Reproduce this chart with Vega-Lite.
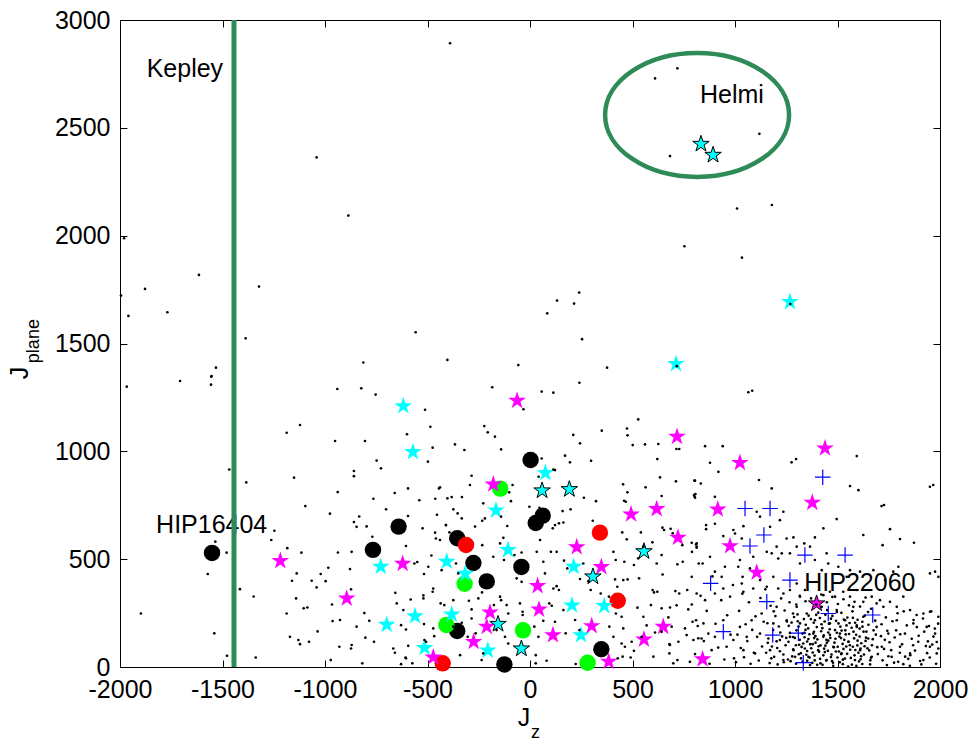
{
"$schema": "https://vega.github.io/schema/vega-lite/v6.json",
"autosize": {"type": "none"},
"padding": {"left": 120, "top": 20, "right": 36, "bottom": 78},
"width": 820,
"height": 647,
"background": "white",
"config": {"font": "Liberation Sans", "view": {"stroke": "black", "strokeWidth": 1}},
"datasets": {
"dots": [
{"x":-390,"y":2892},{"x":-1041,"y":2363},{"x":-886,"y":2093},{"x":-1980,"y":1988},{"x":-1615,"y":1818},{"x":-1878,"y":1753},{"x":-1995,"y":1722},{"x":-1769,"y":1645},{"x":-1959,"y":1628},{"x":-1322,"y":1764},{"x":-1387,"y":1524},{"x":-558,"y":1552},{"x":-813,"y":1412},{"x":-403,"y":1424},{"x":-57,"y":1400},{"x":-1532,"y":1388},{"x":-1555,"y":1346},
{"x":719,"y":2776},{"x":610,"y":2729},{"x":1119,"y":2472},{"x":683,"y":2369},{"x":1010,"y":2126},{"x":1180,"y":2142},{"x":753,"y":1951},{"x":1034,"y":1898},{"x":240,"y":1736},{"x":132,"y":1699},{"x":215,"y":1685},{"x":84,"y":1640},{"x":254,"y":1520},{"x":376,"y":1388},{"x":716,"y":1395},{"x":1270,"y":1683},{"x":1065,"y":1274},{"x":1084,"y":1281},
{"x":-1967,"y":1300},{"x":-1707,"y":1326},{"x":-1553,"y":1349},{"x":-1556,"y":1309},{"x":-940,"y":1289},{"x":-823,"y":1292},{"x":-753,"y":1263},{"x":-512,"y":1193},{"x":-1187,"y":1086},{"x":-1122,"y":1122},{"x":-600,"y":1079},{"x":-486,"y":1114},{"x":-951,"y":1048},{"x":-805,"y":1048},{"x":-475,"y":1017},{"x":-498,"y":952},{"x":-1467,"y":916},{"x":-1384,"y":856},{"x":-1151,"y":878},{"x":-748,"y":957},{"x":-727,"y":921},{"x":-859,"y":909},{"x":-859,"y":885},{"x":-938,"y":811},{"x":-660,"y":807},{"x":-595,"y":828},{"x":-444,"y":828},{"x":-764,"y":780},{"x":-540,"y":773},{"x":-462,"y":780},{"x":-1096,"y":746},{"x":-702,"y":731},{"x":-976,"y":711},{"x":-833,"y":698},{"x":-595,"y":700},{"x":-454,"y":706},{"x":-859,"y":672},{"x":-797,"y":652},{"x":-846,"y":650},{"x":-524,"y":643},{"x":-410,"y":658},{"x":-463,"y":623},{"x":-1247,"y":632},{"x":-1262,"y":589},{"x":-1535,"y":581},{"x":-769,"y":604},{"x":-459,"y":596},{"x":-1480,"y":530},{"x":-1184,"y":551},{"x":-1115,"y":530},{"x":-937,"y":531},{"x":-870,"y":534},{"x":-605,"y":561},{"x":-481,"y":517},{"x":-1572,"y":431},{"x":-984,"y":460},{"x":-878,"y":454},{"x":-1138,"y":434},{"x":-1021,"y":431},{"x":-1065,"y":400},{"x":-997,"y":398},{"x":-1161,"y":400},{"x":-1041,"y":369},{"x":-564,"y":480},{"x":-550,"y":487},{"x":-517,"y":431},{"x":-496,"y":465},{"x":-1415,"y":361},{"x":-1348,"y":327},{"x":-1141,"y":318},{"x":-873,"y":360},{"x":-657,"y":344},{"x":-582,"y":313},{"x":-520,"y":332},{"x":-520,"y":318},{"x":-472,"y":364},{"x":-475,"y":349},{"x":-966,"y":290},{"x":-1104,"y":272},{"x":-1086,"y":276},{"x":-650,"y":295},{"x":-618,"y":264},{"x":-1187,"y":248},{"x":-808,"y":250},{"x":-963,"y":213},{"x":-927,"y":218},{"x":-784,"y":214},{"x":-846,"y":187},{"x":-629,"y":194},{"x":-605,"y":174},{"x":-517,"y":199},{"x":-472,"y":179},{"x":-467,"y":143},{"x":-1898,"y":248},{"x":-1540,"y":156},{"x":-1171,"y":140},{"x":-1130,"y":125},{"x":-1122,"y":106},{"x":-1078,"y":117},{"x":-1036,"y":165},{"x":-803,"y":136},{"x":-761,"y":117},{"x":-667,"y":86},{"x":-659,"y":66},{"x":-594,"y":98},{"x":-515,"y":125},{"x":-507,"y":117},{"x":-930,"y":94},{"x":-870,"y":102},{"x":-873,"y":86},{"x":-1478,"y":52},{"x":-1338,"y":44},{"x":-972,"y":32},{"x":-818,"y":17},{"x":-607,"y":44},{"x":-605,"y":40},{"x":-629,"y":13},{"x":-574,"y":17},
{"x":-184,"y":1297},{"x":57,"y":1277},{"x":114,"y":1272},{"x":241,"y":1318},{"x":-32,"y":1195},{"x":528,"y":1148},{"x":-223,"y":1117},{"x":-206,"y":1088},{"x":-171,"y":1068},{"x":350,"y":1096},{"x":473,"y":1106},{"x":476,"y":1074},{"x":211,"y":1076},{"x":244,"y":1037},{"x":-366,"y":1032},{"x":-320,"y":1006},{"x":-141,"y":1009},{"x":501,"y":1029},{"x":561,"y":1032},{"x":626,"y":1034},{"x":714,"y":1011},{"x":728,"y":1011},{"x":171,"y":980},{"x":195,"y":949},{"x":298,"y":956},{"x":57,"y":967},{"x":621,"y":964},{"x":114,"y":916},{"x":122,"y":913},{"x":42,"y":882},{"x":-285,"y":887},{"x":-85,"y":844},{"x":-101,"y":810},{"x":-293,"y":844},{"x":-439,"y":833},{"x":-403,"y":782},{"x":-382,"y":788},{"x":-332,"y":788},{"x":-228,"y":759},{"x":-374,"y":731},{"x":-353,"y":712},{"x":-93,"y":769},{"x":454,"y":847},{"x":475,"y":810},{"x":564,"y":833},{"x":634,"y":879},{"x":712,"y":861},{"x":802,"y":864},{"x":807,"y":802},{"x":803,"y":790},{"x":642,"y":793},{"x":263,"y":785},{"x":322,"y":769},{"x":459,"y":771},{"x":467,"y":766},{"x":-3,"y":743},{"x":46,"y":738},{"x":159,"y":723},{"x":198,"y":731},{"x":122,"y":658},{"x":141,"y":666},{"x":111,"y":643},{"x":163,"y":670},{"x":-141,"y":697},{"x":-220,"y":689},{"x":-233,"y":678},{"x":-333,"y":689},{"x":-410,"y":658},{"x":-111,"y":654},{"x":-268,"y":651},{"x":-439,"y":589},{"x":-393,"y":624},{"x":306,"y":678},{"x":450,"y":624},{"x":472,"y":592},{"x":541,"y":624},{"x":646,"y":646},{"x":654,"y":635},{"x":686,"y":641},{"x":696,"y":620},{"x":553,"y":558},{"x":597,"y":578},{"x":743,"y":565},{"x":789,"y":576},{"x":813,"y":573},{"x":813,"y":558},{"x":-233,"y":565},{"x":-130,"y":599},{"x":-146,"y":573},{"x":49,"y":589},{"x":102,"y":534},{"x":130,"y":534},{"x":33,"y":534},{"x":65,"y":488},{"x":-179,"y":511},{"x":-127,"y":496},{"x":-76,"y":519},{"x":-41,"y":531},{"x":166,"y":493},{"x":182,"y":457},{"x":260,"y":480},{"x":407,"y":534},{"x":418,"y":496},{"x":460,"y":488},{"x":507,"y":473},{"x":528,"y":504},{"x":618,"y":480},{"x":642,"y":519},{"x":719,"y":476},{"x":745,"y":488},{"x":790,"y":534},{"x":823,"y":480},{"x":-431,"y":449},{"x":-361,"y":480},{"x":-350,"y":434},{"x":-65,"y":411},{"x":-41,"y":395},{"x":73,"y":434},{"x":130,"y":375},{"x":114,"y":364},{"x":141,"y":357},{"x":244,"y":408},{"x":285,"y":398},{"x":415,"y":406},{"x":455,"y":403},{"x":476,"y":406},{"x":532,"y":411},{"x":647,"y":429},{"x":598,"y":357},{"x":605,"y":346},{"x":621,"y":349},{"x":709,"y":352},{"x":728,"y":341},{"x":767,"y":357},{"x":-436,"y":295},{"x":-418,"y":287},{"x":-374,"y":310},{"x":-298,"y":307},{"x":-234,"y":346},{"x":-252,"y":318},{"x":-146,"y":326},{"x":-141,"y":310},{"x":-176,"y":287},{"x":-49,"y":295},{"x":94,"y":295},{"x":106,"y":284},{"x":163,"y":264},{"x":296,"y":357},{"x":345,"y":341},{"x":385,"y":326},{"x":426,"y":372},{"x":524,"y":275},{"x":590,"y":287},{"x":642,"y":272},{"x":683,"y":276},{"x":715,"y":286},{"x":772,"y":267},{"x":789,"y":290},{"x":-285,"y":267},{"x":-285,"y":225},{"x":-114,"y":287},{"x":-106,"y":248},{"x":-36,"y":241},{"x":-36,"y":256},{"x":21,"y":187},{"x":65,"y":214},{"x":122,"y":210},{"x":220,"y":218},{"x":419,"y":248},{"x":447,"y":233},{"x":553,"y":233},{"x":569,"y":193},{"x":675,"y":230},{"x":691,"y":187},{"x":756,"y":179},{"x":793,"y":210},{"x":-374,"y":187},{"x":-333,"y":205},{"x":-304,"y":140},{"x":-265,"y":156},{"x":-163,"y":171},{"x":-122,"y":140},{"x":-106,"y":109},{"x":41,"y":140},{"x":174,"y":156},{"x":241,"y":171},{"x":387,"y":187},{"x":407,"y":140},{"x":455,"y":179},{"x":447,"y":109},{"x":463,"y":94},{"x":496,"y":117},{"x":545,"y":140},{"x":610,"y":160},{"x":642,"y":163},{"x":680,"y":106},{"x":683,"y":102},{"x":724,"y":117},{"x":764,"y":148},{"x":821,"y":133},{"x":-341,"y":55},{"x":-228,"y":63},{"x":-236,"y":32},{"x":28,"y":55},{"x":28,"y":17},{"x":81,"y":29},{"x":223,"y":14},{"x":428,"y":40},{"x":452,"y":48},{"x":491,"y":44},{"x":507,"y":75},{"x":602,"y":48},{"x":680,"y":63},{"x":699,"y":17},{"x":719,"y":32},{"x":780,"y":24},
{"x":854,"y":1024},{"x":940,"y":1024},{"x":878,"y":947},{"x":919,"y":905},{"x":805,"y":864},{"x":833,"y":851},{"x":1117,"y":867},{"x":1276,"y":949},{"x":1298,"y":964},{"x":1594,"y":978},{"x":1179,"y":828},{"x":1561,"y":839},{"x":1602,"y":820},{"x":1496,"y":686},{"x":1431,"y":643},{"x":1715,"y":746},{"x":1727,"y":751},{"x":1756,"y":639},{"x":1626,"y":612},{"x":1805,"y":593},{"x":1720,"y":565},{"x":1873,"y":576},{"x":1951,"y":836},{"x":1967,"y":844},{"x":800,"y":797},{"x":805,"y":785},{"x":902,"y":789},{"x":859,"y":658},{"x":859,"y":639},{"x":902,"y":664},{"x":943,"y":607},{"x":992,"y":635},{"x":1000,"y":619},{"x":1041,"y":653},{"x":1033,"y":596},{"x":1106,"y":720},{"x":1122,"y":697},{"x":1219,"y":681},{"x":1236,"y":720},{"x":1171,"y":650},{"x":1252,"y":596},{"x":1203,"y":558},{"x":1285,"y":601},{"x":1338,"y":573},{"x":1390,"y":601},{"x":1366,"y":558},{"x":1301,"y":558},{"x":810,"y":568},{"x":813,"y":553},{"x":789,"y":418},{"x":842,"y":480},{"x":878,"y":511},{"x":902,"y":442},{"x":935,"y":418},{"x":951,"y":465},{"x":1016,"y":465},{"x":1024,"y":496},{"x":1037,"y":418},{"x":1073,"y":457},{"x":1089,"y":511},{"x":1155,"y":534},{"x":1179,"y":527},{"x":1211,"y":503},{"x":1228,"y":527},{"x":1268,"y":527},{"x":1317,"y":480},{"x":1390,"y":496},{"x":1423,"y":449},{"x":1447,"y":527},{"x":1455,"y":480},{"x":1504,"y":465},{"x":1545,"y":418},{"x":1561,"y":449},{"x":1610,"y":442},{"x":1675,"y":449},{"x":1732,"y":403},{"x":1772,"y":442},{"x":1797,"y":465},{"x":1951,"y":434},{"x":1976,"y":442},{"x":1992,"y":418},{"x":813,"y":341},{"x":854,"y":310},{"x":902,"y":341},{"x":943,"y":364},{"x":976,"y":326},{"x":1033,"y":387},{"x":1041,"y":349},{"x":1089,"y":364},{"x":1122,"y":403},{"x":1187,"y":418},{"x":1211,"y":364},{"x":1236,"y":341},{"x":1155,"y":372},{"x":1268,"y":357},{"x":1301,"y":387},{"x":1317,"y":326},{"x":1341,"y":357},{"x":1431,"y":333},{"x":1463,"y":349},{"x":1488,"y":326},{"x":1528,"y":349},{"x":1561,"y":326},{"x":1594,"y":357},{"x":1626,"y":302},{"x":1667,"y":326},{"x":1707,"y":310},{"x":1756,"y":302},{"x":1789,"y":279},{"x":1821,"y":326},{"x":1854,"y":264},{"x":1919,"y":248},{"x":1951,"y":256},{"x":1992,"y":233},{"x":810,"y":217},{"x":846,"y":202},{"x":797,"y":125},{"x":837,"y":132},{"x":870,"y":155},{"x":886,"y":78},{"x":902,"y":140},{"x":943,"y":217},{"x":959,"y":94},{"x":992,"y":125},{"x":995,"y":40},{"x":1024,"y":186},{"x":1041,"y":78},{"x":1057,"y":140},{"x":1081,"y":217},{"x":1098,"y":63},{"x":1122,"y":155},{"x":1130,"y":248},{"x":1171,"y":78},{"x":1187,"y":202},{"x":1203,"y":279},{"x":1219,"y":125},{"x":1236,"y":32},{"x":1252,"y":217},{"x":1268,"y":140},{"x":1285,"y":78},{"x":1301,"y":279},{"x":1317,"y":202},{"x":1333,"y":109},{"x":1350,"y":248},{"x":1358,"y":47},{"x":1382,"y":155},{"x":1390,"y":217},{"x":1406,"y":78},{"x":1423,"y":279},{"x":1431,"y":140},{"x":1447,"y":32},{"x":1463,"y":202},{"x":1480,"y":94},{"x":1496,"y":264},{"x":1512,"y":155},{"x":1520,"y":63},{"x":1537,"y":217},{"x":1553,"y":117},{"x":1577,"y":279},{"x":1585,"y":32},{"x":1594,"y":186},{"x":1610,"y":78},{"x":1626,"y":233},{"x":1650,"y":132},{"x":1667,"y":47},{"x":1691,"y":186},{"x":1716,"y":94},{"x":1724,"y":279},{"x":1748,"y":155},{"x":1764,"y":47},{"x":1789,"y":217},{"x":1805,"y":94},{"x":1829,"y":155},{"x":1854,"y":63},{"x":1870,"y":202},{"x":1894,"y":117},{"x":1919,"y":32},{"x":1935,"y":186},{"x":1951,"y":94},{"x":1976,"y":155},{"x":1984,"y":63},{"x":1992,"y":86},
{"x":1437,"y":211},{"x":1293,"y":47},{"x":1581,"y":133},{"x":1366,"y":9},{"x":1622,"y":187},{"x":1408,"y":96},{"x":1519,"y":251},{"x":1268,"y":158},{"x":1473,"y":28},{"x":1655,"y":77},{"x":1345,"y":196},{"x":1547,"y":61},{"x":1392,"y":143},{"x":1598,"y":219},{"x":1313,"y":103},{"x":1488,"y":171},{"x":1431,"y":54},{"x":1672,"y":129},{"x":1359,"y":238},{"x":1526,"y":13},{"x":1284,"y":82},{"x":1613,"y":36},{"x":1455,"y":122},{"x":1379,"y":67},{"x":1569,"y":182},{"x":1501,"y":94},{"x":1330,"y":25},{"x":1641,"y":164},{"x":1414,"y":227},{"x":1592,"y":5},{"x":1276,"y":206},{"x":1463,"y":149},{"x":1536,"y":39},{"x":1352,"y":118},{"x":1684,"y":215},{"x":1426,"y":180},{"x":1507,"y":72},{"x":1305,"y":244},{"x":1560,"y":101},{"x":1389,"y":31},{"x":1629,"y":58},{"x":1449,"y":264},{"x":1338,"y":158},{"x":1575,"y":228},{"x":1479,"y":6},{"x":1261,"y":117},{"x":1608,"y":141},{"x":1417,"y":17},{"x":1544,"y":193},{"x":1372,"y":87},{"x":1663,"y":43},{"x":1493,"y":214},{"x":1321,"y":64},{"x":1587,"y":79},{"x":1441,"y":99},{"x":1357,"y":179},{"x":1517,"y":134},{"x":1649,"y":255},{"x":1402,"y":128},{"x":1298,"y":15},{"x":1556,"y":153},{"x":1468,"y":46},{"x":1616,"y":110},{"x":1384,"y":205},{"x":1529,"y":84},{"x":1339,"y":138},{"x":1694,"y":92},{"x":1445,"y":30},{"x":1573,"y":258},{"x":1310,"y":188},{"x":1485,"y":113},{"x":1621,"y":14},{"x":1396,"y":242},{"x":1538,"y":170},{"x":1279,"y":49},{"x":1458,"y":201},{"x":1602,"y":66},{"x":1367,"y":106},{"x":1511,"y":22},{"x":1676,"y":170},{"x":1433,"y":147},{"x":1348,"y":57},{"x":1594,"y":193},{"x":1475,"y":237},{"x":1316,"y":126},{"x":1552,"y":2},{"x":1410,"y":71},{"x":1637,"y":121},{"x":1497,"y":159},{"x":1288,"y":232},{"x":1565,"y":42},{"x":1420,"y":166},{"x":1377,"y":19},{"x":1633,"y":238},{"x":1525,"y":107},{"x":1341,"y":86},{"x":1608,"y":178},{"x":1453,"y":75},{"x":1300,"y":170},{"x":1583,"y":54},{"x":1490,"y":131},{"x":1406,"y":252},{"x":1660,"y":31},{"x":1531,"y":220},{"x":1363,"y":152},{"x":1448,"y":112},{"x":1597,"y":100},{"x":1322,"y":40},{"x":1514,"y":187},{"x":1385,"y":163},{"x":1646,"y":87},{"x":1471,"y":58},{"x":1283,"y":139},{"x":1554,"y":117},{"x":1427,"y":10},{"x":1621,"y":210},{"x":1352,"y":29},{"x":1500,"y":44},{"x":1578,"y":164},{"x":1393,"y":113},{"x":1687,"y":150},{"x":1462,"y":175},{"x":1336,"y":222},{"x":1540,"y":151},{"x":1415,"y":38},{"x":1605,"y":26},{"x":1271,"y":27},{"x":1482,"y":91},{"x":1559,"y":204},{"x":1399,"y":185},{"x":1668,"y":101},{"x":1325,"y":93},{"x":1518,"y":60},{"x":1441,"y":242},{"x":1591,"y":149},{"x":1358,"y":130},{"x":1627,"y":164},{"x":1505,"y":202},{"x":1297,"y":101},{"x":1465,"y":135},{"x":1570,"y":11},{"x":1388,"y":53},{"x":1651,"y":196},{"x":1435,"y":85},{"x":1543,"y":95},{"x":1311,"y":59},{"x":1612,"y":85},{"x":1478,"y":20},{"x":1370,"y":222},{"x":1533,"y":126},{"x":1422,"y":198},{"x":1586,"y":205},{"x":1344,"y":172},{"x":1697,"y":60},{"x":1455,"y":160},{"x":1262,"y":191},{"x":1520,"y":169},{"x":1401,"y":10},{"x":1639,"y":136},{"x":1492,"y":72},{"x":1329,"y":155},{"x":1562,"y":80},{"x":1446,"y":126},{"x":1379,"y":106},{"x":1615,"y":50},{"x":1509,"y":141},{"x":1292,"y":135},{"x":1548,"y":229},{"x":1417,"y":100},{"x":1659,"y":12},{"x":1468,"y":224},{"x":1352,"y":74},{"x":1598,"y":122},{"x":1438,"y":69},{"x":1526,"y":34},{"x":1306,"y":212},{"x":1575,"y":94},{"x":1386,"y":134},{"x":1632,"y":96},{"x":1497,"y":255},{"x":1364,"y":44},
{"x":1152,"y":66},{"x":1158,"y":203},{"x":1163,"y":132},{"x":1169,"y":18},{"x":1174,"y":284},{"x":1180,"y":95},{"x":1186,"y":171},{"x":1191,"y":47},{"x":1197,"y":236},{"x":1203,"y":119},{"x":1208,"y":12},{"x":1214,"y":188},{"x":1219,"y":73},{"x":1225,"y":318},{"x":1230,"y":142},{"x":1236,"y":58},{"x":1242,"y":262},{"x":1247,"y":101},{"x":1253,"y":211},{"x":1258,"y":35},{"x":1160,"y":112},{"x":1177,"y":40},{"x":1189,"y":258},{"x":1206,"y":88},{"x":1221,"y":160},{"x":1238,"y":22},{"x":1250,"y":135},{"x":1266,"y":300},{"x":1283,"y":248},{"x":1299,"y":290},{"x":1316,"y":330},{"x":1344,"y":305},{"x":1371,"y":318},{"x":1396,"y":290},{"x":1421,"y":336},{"x":1448,"y":300},{"x":1475,"y":325},{"x":1502,"y":292},{"x":1529,"y":314},{"x":1556,"y":286},{"x":1583,"y":302},{"x":1610,"y":280},{"x":1637,"y":322},{"x":1664,"y":270},{"x":1691,"y":295},
{"x":1712,"y":143},{"x":1845,"y":38},{"x":1768,"y":212},{"x":1931,"y":97},{"x":1804,"y":66},{"x":1887,"y":185},{"x":1741,"y":9},{"x":1968,"y":141},{"x":1823,"y":258},{"x":1754,"y":115},{"x":1909,"y":12},{"x":1786,"y":170},{"x":1950,"y":44},{"x":1727,"y":84},{"x":1862,"y":131},{"x":1991,"y":201},{"x":1796,"y":24},{"x":1878,"y":76},{"x":1736,"y":230},{"x":1923,"y":164},{"x":1815,"y":105},{"x":1957,"y":258},{"x":1748,"y":50},{"x":1871,"y":218},{"x":1984,"y":116},{"x":1779,"y":137},{"x":1903,"y":28},{"x":1838,"y":193},{"x":1720,"y":31},{"x":1941,"y":119},{"x":1853,"y":6},{"x":1793,"y":249},{"x":1981,"y":15},{"x":1762,"y":78},{"x":1896,"y":145},{"x":1830,"y":48},{"x":1715,"y":198},{"x":1975,"y":178},{"x":1869,"y":101},{"x":1806,"y":152},{"x":1937,"y":64},{"x":1743,"y":168},{"x":1917,"y":225},{"x":1855,"y":55},{"x":1776,"y":20},{"x":1962,"y":104},{"x":1886,"y":241},{"x":1731,"y":126},{"x":1821,"y":13},{"x":1946,"y":190},
{"x":1005,"y":22},{"x":1012,"y":150},{"x":1020,"y":260},{"x":1028,"y":88},{"x":1036,"y":340},{"x":1044,"y":45},{"x":1052,"y":198},{"x":1060,"y":120},{"x":1068,"y":300},{"x":1076,"y":15},{"x":1084,"y":172},{"x":1092,"y":66},{"x":1100,"y":235},{"x":1108,"y":140},{"x":1116,"y":30},{"x":1124,"y":320},{"x":1132,"y":95},{"x":1140,"y":210},{"x":1148,"y":360},{"x":805,"y":60},{"x":818,"y":190},{"x":832,"y":330},{"x":848,"y":120},{"x":862,"y":260},{"x":876,"y":15},{"x":890,"y":420},{"x":905,"y":200},{"x":918,"y":90},{"x":933,"y":310},{"x":948,"y":35},{"x":962,"y":240},{"x":978,"y":150},{"x":990,"y":380}
],
"markers": [
{"x":-1551,"y":529,"kind":"s1"},{"x":-766,"y":543,"kind":"s1"},{"x":-641,"y":651,"kind":"s1"},{"x":-355,"y":597,"kind":"s1"},{"x":-276,"y":482,"kind":"s1"},{"x":-211,"y":397,"kind":"s1"},{"x":-355,"y":167,"kind":"s1"},{"x":-42,"y":464,"kind":"s1"},{"x":3,"y":960,"kind":"s1"},{"x":28,"y":668,"kind":"s1"},{"x":62,"y":702,"kind":"s1"},{"x":-125,"y":12,"kind":"s1"},{"x":348,"y":82,"kind":"s1"},
{"x":-312,"y":566,"kind":"s2"},{"x":341,"y":623,"kind":"s2"},{"x":428,"y":307,"kind":"s2"},{"x":-426,"y":17,"kind":"s2"},
{"x":-145,"y":827,"kind":"s3"},{"x":-319,"y":386,"kind":"s3"},{"x":-408,"y":195,"kind":"s3"},{"x":-34,"y":170,"kind":"s3"},{"x":281,"y":20,"kind":"s3"}
],
"stars": [
{"x":-618,"y":1210,"kind":"s4"},{"x":-571,"y":997,"kind":"s4"},{"x":-728,"y":465,"kind":"s4"},{"x":-406,"y":489,"kind":"s4"},{"x":-561,"y":236,"kind":"s4"},{"x":-699,"y":196,"kind":"s4"},{"x":-514,"y":89,"kind":"s4"},{"x":75,"y":900,"kind":"s4"},{"x":-166,"y":726,"kind":"s4"},{"x":-107,"y":543,"kind":"s4"},{"x":-316,"y":433,"kind":"s4"},{"x":213,"y":465,"kind":"s4"},{"x":205,"y":286,"kind":"s4"},{"x":362,"y":283,"kind":"s4"},{"x":-382,"y":244,"kind":"s4"},{"x":249,"y":148,"kind":"s4"},{"x":-206,"y":77,"kind":"s4"},{"x":712,"y":1405,"kind":"s4"},{"x":1268,"y":1693,"kind":"s4"},
{"x":-63,"y":1235,"kind":"s5"},{"x":717,"y":1068,"kind":"s5"},{"x":-179,"y":847,"kind":"s5"},{"x":493,"y":708,"kind":"s5"},{"x":618,"y":733,"kind":"s5"},{"x":722,"y":600,"kind":"s5"},{"x":228,"y":556,"kind":"s5"},{"x":348,"y":464,"kind":"s5"},{"x":37,"y":376,"kind":"s5"},{"x":44,"y":267,"kind":"s5"},{"x":-195,"y":253,"kind":"s5"},{"x":-211,"y":187,"kind":"s5"},{"x":-275,"y":117,"kind":"s5"},{"x":112,"y":148,"kind":"s5"},{"x":301,"y":190,"kind":"s5"},{"x":650,"y":187,"kind":"s5"},{"x":556,"y":128,"kind":"s5"},{"x":384,"y":25,"kind":"s5"},{"x":-1218,"y":492,"kind":"s5"},{"x":-894,"y":318,"kind":"s5"},{"x":-621,"y":479,"kind":"s5"},{"x":-472,"y":45,"kind":"s5"},{"x":1439,"y":1014,"kind":"s5"},{"x":1024,"y":947,"kind":"s5"},{"x":1377,"y":762,"kind":"s5"},{"x":916,"y":731,"kind":"s5"},{"x":976,"y":561,"kind":"s5"},{"x":1106,"y":438,"kind":"s5"},{"x":842,"y":36,"kind":"s5"}
],
"edged": [
{"x":59,"y":818,"kind":"s6"},{"x":192,"y":824,"kind":"s6"},{"x":556,"y":536,"kind":"s6"},{"x":307,"y":419,"kind":"s6"},{"x":-156,"y":199,"kind":"s6"},{"x":-42,"y":85,"kind":"s6"},{"x":834,"y":2425,"kind":"s6"},{"x":893,"y":2374,"kind":"s6"},{"x":1398,"y":294,"kind":"s7"}
],
"plus": [
{"x":1428,"y":880},{"x":1049,"y":735},{"x":1171,"y":735},{"x":1141,"y":612},{"x":1073,"y":561},{"x":1341,"y":519},{"x":1537,"y":519},{"x":881,"y":388},{"x":1268,"y":403},{"x":1155,"y":303},{"x":1455,"y":248},{"x":1672,"y":241},{"x":943,"y":164},{"x":1184,"y":148},{"x":1309,"y":157},{"x":1333,"y":20}
],
"labels": [
{"label":"Kepley","x":-1870,"y":2737},{"label":"Helmi","x":829,"y":2617},{"label":"HIP16404","x":-1824,"y":623},{"label":"HIP22060","x":1338,"y":354}
],
"groups": [{"name":"Kepley","x":-1444},{"name":"Helmi","x":815,"y":2560}]
},
"resolve": {"axis": {"x": "independent", "y": "independent"}},
"layer": [
{
"data": {"name": "labels"},
"mark": {"type": "text", "align": "left", "baseline": "alphabetic", "fontSize": 25, "color": "black"},
"encoding": {
"x": {"field": "x", "type": "quantitative", "scale": {"domain": [-2000, 2000], "nice": false, "zero": false}, "axis": {"orient": "bottom", "values": [-2000,-1500,-1000,-500,0,500,1000,1500,2000], "labelExpr": "'' + datum.value", "labelFontSize": 25, "labelColor": "black", "labelFont": "Liberation Sans", "tickSize": -7, "tickColor": "black", "labelPadding": 17, "domainColor": "black", "grid": false, "title": null, "labelFlush": false, "labelOverlap": false}},
"y": {"field": "y", "type": "quantitative", "scale": {"domain": [0, 3000], "nice": false, "zero": false}, "axis": {"orient": "left", "values": [0,500,1000,1500,2000,2500,3000], "labelExpr": "'' + datum.value", "labelFontSize": 25, "labelColor": "black", "labelFont": "Liberation Sans", "tickSize": -7, "tickColor": "black", "labelPadding": 17, "domainColor": "black", "grid": false, "title": null, "labelFlush": false, "labelOverlap": false}},
"text": {"field": "label"}
}
},
{
"data": {"name": "groups"},
"transform": [{"filter": "datum.name === 'Kepley'"}],
"mark": {"type": "rule", "color": "#2e8b57", "strokeWidth": 5},
"encoding": {
"x": {"field": "x", "type": "quantitative", "scale": {"domain": [-2000, 2000], "nice": false, "zero": false}, "axis": {"orient": "top", "values": [-2000,-1500,-1000,-500,0,500,1000,1500,2000], "labels": false, "tickSize": -7, "tickColor": "black", "domain": false, "grid": false, "title": null}}
}
},
{
"data": {"name": "groups"},
"transform": [{"filter": "datum.name === 'Helmi'"}],
"mark": {"type": "point", "filled": false, "shape": "M-1,0A1,0.674,0,1,0,1,0A1,0.674,0,1,0,-1,0Z", "size": 33856, "stroke": "#2e8b57", "strokeWidth": 4.5, "opacity": 1},
"encoding": {
"x": {"field": "x", "type": "quantitative", "scale": {"domain": [-2000, 2000], "nice": false, "zero": false}, "axis": null},
"y": {"field": "y", "type": "quantitative", "scale": {"domain": [0, 3000], "nice": false, "zero": false}, "axis": {"orient": "right", "values": [0,500,1000,1500,2000,2500,3000], "labels": false, "tickSize": -7, "tickColor": "black", "domain": false, "grid": false, "title": null}}
}
},
{
"data": {"name": "markers"},
"mark": {"type": "point", "shape": "circle", "filled": true, "size": 270, "opacity": 1},
"encoding": {
"x": {"field": "x", "type": "quantitative", "scale": {"domain": [-2000, 2000], "nice": false, "zero": false}, "axis": null},
"y": {"field": "y", "type": "quantitative", "scale": {"domain": [0, 3000], "nice": false, "zero": false}, "axis": null},
"color": {"field": "kind", "type": "nominal", "scale": {"domain": ["s1","s2","s3","s4","s5","s6","s7"], "range": ["#000000","#ff0000","#00ff00","#00ffff","#ff00ff","#00ffff","#ff00ff"]}, "legend": null}
}
},
{
"data": {"name": "stars"},
"mark": {"type": "point", "shape": "M0,-1L0.225,-0.309L0.951,-0.309L0.363,0.118L0.588,0.809L0,0.382L-0.588,0.809L-0.363,0.118L-0.951,-0.309L-0.225,-0.309Z", "filled": true, "size": 345, "opacity": 1},
"encoding": {
"x": {"field": "x", "type": "quantitative", "scale": {"domain": [-2000, 2000], "nice": false, "zero": false}, "axis": null},
"y": {"field": "y", "type": "quantitative", "scale": {"domain": [0, 3000], "nice": false, "zero": false}, "axis": null},
"color": {"field": "kind", "type": "nominal", "legend": null}
}
},
{
"data": {"name": "edged"},
"mark": {"type": "point", "shape": "M0,-1L0.225,-0.309L0.951,-0.309L0.363,0.118L0.588,0.809L0,0.382L-0.588,0.809L-0.363,0.118L-0.951,-0.309L-0.225,-0.309Z", "filled": true, "size": 300, "opacity": 1, "stroke": "black", "strokeWidth": 1, "strokeOpacity": 1},
"encoding": {
"x": {"field": "x", "type": "quantitative", "scale": {"domain": [-2000, 2000], "nice": false, "zero": false}, "axis": null},
"y": {"field": "y", "type": "quantitative", "scale": {"domain": [0, 3000], "nice": false, "zero": false}, "axis": null},
"fill": {"field": "kind", "type": "nominal", "scale": {"domain": ["s1","s2","s3","s4","s5","s6","s7"], "range": ["#000000","#ff0000","#00ff00","#00ffff","#ff00ff","#00ffff","#ff00ff"]}, "legend": null}
}
},
{
"data": {"name": "dots"},
"mark": {"type": "point", "shape": "circle", "filled": true, "size": 7, "color": "black", "opacity": 1},
"encoding": {
"x": {"field": "x", "type": "quantitative", "scale": {"domain": [-2000, 2000], "nice": false, "zero": false}, "axis": null},
"y": {"field": "y", "type": "quantitative", "scale": {"domain": [0, 3000], "nice": false, "zero": false}, "axis": null}
}
},
{
"data": {"name": "plus"},
"mark": {"type": "point", "shape": "M-1,0L1,0M0,-1L0,1", "filled": false, "size": 240, "stroke": "#0000ff", "strokeWidth": 1.2, "opacity": 1},
"encoding": {
"x": {"field": "x", "type": "quantitative", "scale": {"domain": [-2000, 2000], "nice": false, "zero": false}, "axis": null},
"y": {"field": "y", "type": "quantitative", "scale": {"domain": [0, 3000], "nice": false, "zero": false}, "axis": null}
}
},
{
"data": {"values": [{}]},
"layer": [
{"mark": {"type": "text", "text": "J", "fontSize": 25, "align": "center", "baseline": "middle", "color": "black"},
 "encoding": {"x": {"datum": -29, "type": "quantitative", "scale": {"domain": [-2000, 2000], "nice": false, "zero": false}, "axis": null}, "y": {"datum": -237, "type": "quantitative", "scale": {"domain": [0, 3000], "nice": false, "zero": false}, "axis": null}}},
{"mark": {"type": "text", "text": "z", "fontSize": 18, "align": "center", "baseline": "middle", "color": "black"},
 "encoding": {"x": {"datum": 27, "type": "quantitative", "scale": {"domain": [-2000, 2000], "nice": false, "zero": false}, "axis": null}, "y": {"datum": -305, "type": "quantitative", "scale": {"domain": [0, 3000], "nice": false, "zero": false}, "axis": null}}},
{"mark": {"type": "text", "text": "J", "fontSize": 25, "align": "center", "baseline": "middle", "angle": 270, "color": "black"},
 "encoding": {"x": {"datum": -2490, "type": "quantitative", "scale": {"domain": [-2000, 2000], "nice": false, "zero": false}, "axis": null}, "y": {"datum": 1363, "type": "quantitative", "scale": {"domain": [0, 3000], "nice": false, "zero": false}, "axis": null}}},
{"mark": {"type": "text", "text": "plane", "fontSize": 18, "align": "center", "baseline": "middle", "angle": 270, "color": "black"},
 "encoding": {"x": {"datum": -2420, "type": "quantitative", "scale": {"domain": [-2000, 2000], "nice": false, "zero": false}, "axis": null}, "y": {"datum": 1511, "type": "quantitative", "scale": {"domain": [0, 3000], "nice": false, "zero": false}, "axis": null}}}
]
}
]
}
